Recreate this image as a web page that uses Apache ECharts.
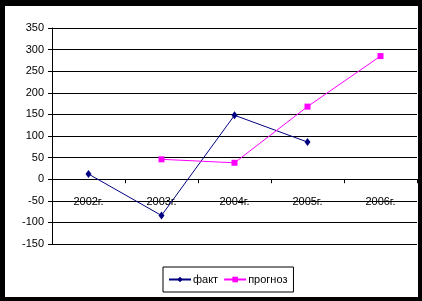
<!DOCTYPE html>
<html><head><meta charset="utf-8">
<script src="https://cdn.jsdelivr.net/npm/echarts@6/dist/echarts.min.js"></script>
<style>
html,body{margin:0;padding:0;background:#000;width:422px;height:301px;overflow:hidden;}
#bg{position:absolute;left:5px;top:6px;width:413px;height:291px;background:#fff;}
#chart{position:absolute;left:0;top:0;width:422px;height:301px;}
</style></head>
<body><div id="bg"></div><div id="chart"></div>
<script>
const categories = ['2002г.', '2003г.', '2004г.', '2005г.', '2006г.'];
const fact = [12, -84, 148, 86, null];
const forecast = [null, 46, 38, 168, 285];
const seriesNames = ['факт', 'прогноз'];

const font = 'Liberation Sans, Arial, sans-serif';
const chart = echarts.init(document.getElementById('chart'), null, {renderer: 'canvas'});
chart.setOption({
  backgroundColor: 'transparent',
  animation: false,
  textStyle: {fontFamily: font},
  grid: {left: 52, top: 28, width: 365, height: 216, containLabel: false},
  xAxis: {
    type: 'category',
    data: categories,
    boundaryGap: true,
    axisLine: {onZero: true, lineStyle: {color: '#000', width: 1}},
    axisTick: {show: true, inside: false, length: 4, alignWithLabel: false, lineStyle: {color: '#000'}},
    axisLabel: {color: '#000', fontSize: 11, fontFamily: font, margin: -48},
    splitLine: {show: false}
  },
  yAxis: {
    type: 'value',
    min: -150, max: 350, interval: 50,
    axisLine: {show: true, lineStyle: {color: '#000', width: 1}},
    axisTick: {show: true, length: 4, lineStyle: {color: '#000'}},
    axisLabel: {color: '#000', fontSize: 11, fontFamily: font, margin: 8},
    splitLine: {show: true, lineStyle: {color: '#000', width: 1}}
  },
  legend: {
    left: 163, top: 267,
    padding: [7, 6, 7, 5],
    borderColor: '#000', borderWidth: 1,
    itemWidth: 22, itemHeight: 7, itemGap: 5,
    textStyle: {color: '#000', fontSize: 11, fontFamily: font, padding: [0, 0, 0, -3]},
    data: seriesNames
  },
  series: [
    {
      name: seriesNames[0], type: 'line', data: fact,
      symbol: 'diamond', symbolSize: [6, 8], showSymbol: true,
      lineStyle: {color: '#000080', width: 1},
      itemStyle: {color: '#000080'}
    },
    {
      name: seriesNames[1], type: 'line', data: forecast,
      symbol: 'rect', symbolSize: 6, showSymbol: true,
      lineStyle: {color: '#FF00FF', width: 1},
      itemStyle: {color: '#FF00FF'}
    }
  ]
});
</script></body></html>
